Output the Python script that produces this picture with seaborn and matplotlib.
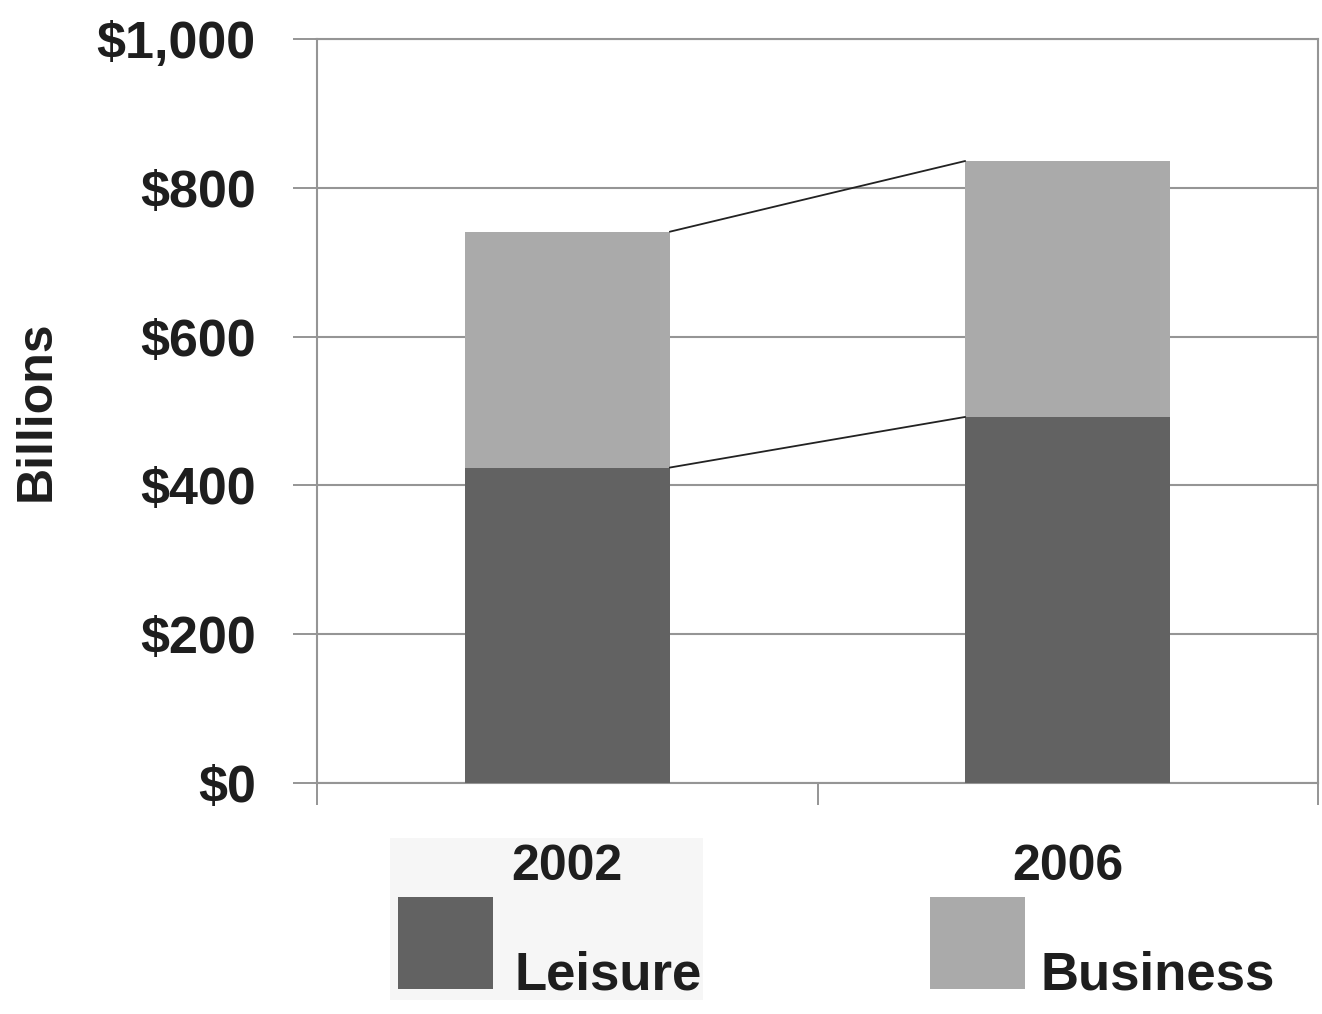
import matplotlib
matplotlib.use("Agg")
import matplotlib.pyplot as plt
from matplotlib.patches import Rectangle
import numpy as np
import pandas as pd
import seaborn as sns

# Travel spending, billions of dollars
years = ["2002", "2006"]
leisure = [424, 492]
business = [317, 344]
series_names = ["Leisure", "Business"]
y_ticks = [0, 200, 400, 600, 800, 1000]
y_tick_labels = ["$0", "$200", "$400", "$600", "$800", "$1,000"]

LEISURE_COLOR = "#626262"
BUSINESS_COLOR = "#aaaaaa"
GRID_COLOR = "#959595"
TEXT_COLOR = "#1e1e1e"

sns.set_theme(style="white")
plt.rcParams["font.family"] = ["Liberation Sans", "DejaVu Sans"]
plt.rcParams["font.weight"] = "bold"

df = pd.DataFrame({"year": years, "Leisure": leisure, "Business": business})
df["total"] = df["Leisure"] + df["Business"]

W, H = 1322, 1014
fig = plt.figure(figsize=(W / 100, H / 100), dpi=100)
fig.patch.set_facecolor("white")
ax = fig.add_axes([317 / W, 1 - 783 / H, (1318 - 317) / W, (783 - 39) / H])

bar_w = 0.41
# stacked bars: total (business on top) drawn first, leisure drawn over it
sns.barplot(data=df, x="year", y="total", color=BUSINESS_COLOR, width=bar_w,
            saturation=1, edgecolor="none", linewidth=0, ax=ax, zorder=3)
sns.barplot(data=df, x="year", y="Leisure", color=LEISURE_COLOR, width=bar_w,
            saturation=1, edgecolor="none", linewidth=0, ax=ax, zorder=4)

# series lines joining the segment tops of neighbouring bars
xs = [0 + bar_w / 2, 1 - bar_w / 2]
ax.plot(xs, df["Leisure"].values, color="#222222", lw=1.3, zorder=5)
ax.plot(xs, df["total"].values, color="#222222", lw=1.3, zorder=5)

ax.set_xlim(-0.5, 1.5)
ax.set_ylim(0, 1000)
ax.set_yticks(y_ticks)
ax.set_yticklabels(y_tick_labels)
ax.yaxis.grid(True, color=GRID_COLOR, lw=1.5, zorder=0)
ax.set_axisbelow(True)

# category tick marks sit between the categories; year labels on minor ticks
ax.set_xticks([-0.5, 0.5, 1.5])
ax.set_xticklabels(["", "", ""])
ax.set_xticks([0, 1], minor=True)
ax.set_xticklabels(years, minor=True)
ax.tick_params(axis="x", which="major", direction="out", length=16, width=1.4,
               color=GRID_COLOR, bottom=True)
ax.tick_params(axis="x", which="minor", length=0, pad=44, labelsize=36,
               labelcolor=TEXT_COLOR)
ax.tick_params(axis="y", direction="out", length=17, width=1.4, color=GRID_COLOR,
               left=True, pad=27, labelsize=37.5, labelcolor=TEXT_COLOR)
for lab in ax.get_yticklabels() + ax.get_xticklabels(minor=True):
    lab.set_fontweight("bold")

for side in ["left", "right", "top", "bottom"]:
    ax.spines[side].set_visible(True)
    ax.spines[side].set_color(GRID_COLOR)
    ax.spines[side].set_linewidth(1.5)

ax.set_xlabel("")
ax.set_ylabel("Billions", fontsize=36, fontweight="bold", color=TEXT_COLOR)
ax.yaxis.label.set_verticalalignment("center")
ax.yaxis.set_label_coords((37 - 317) / (1318 - 317), 0.5)

# legend drawn beneath the year labels
fig.add_artist(Rectangle((390 / W, 1 - 1000 / H), 313 / W, 162 / H,
                         transform=fig.transFigure, facecolor="#f6f6f6",
                         edgecolor="none", zorder=0))
legend_items = [(series_names[0], LEISURE_COLOR, 398, 515),
                (series_names[1], BUSINESS_COLOR, 930, 1040)]
for name, col, sx, tx in legend_items:
    fig.add_artist(Rectangle((sx / W, 1 - 989 / H), 95 / W, 92 / H,
                             transform=fig.transFigure, facecolor=col,
                             edgecolor="none", zorder=2))
    fig.text(tx / W, 1 - 990 / H, name, fontsize=38, fontweight="bold",
             color=TEXT_COLOR, ha="left", va="baseline")

fig.savefig("out.png", dpi=100, facecolor="white")
